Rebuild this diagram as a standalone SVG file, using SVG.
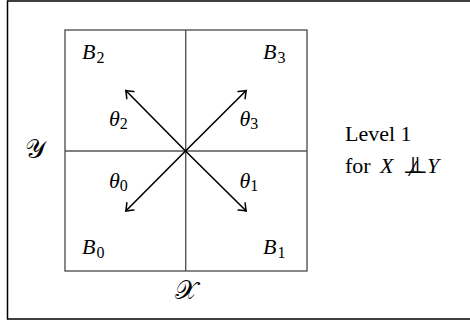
<svg xmlns="http://www.w3.org/2000/svg" width="470" height="324" viewBox="0 0 470 324">
<style>
.t{font-family:"Liberation Serif","DejaVu Serif",serif;font-size:22px;fill:#000}
.i{font-style:italic}
.s{font-size:16px;font-style:normal}
.g{stroke:#555;stroke-width:1.4;fill:none}
.a{stroke:#000;stroke-width:1.6;fill:none;marker-end:url(#ah)}
.sc{font-family:"DejaVu Serif","Liberation Serif",serif;font-size:26px;fill:#000}
.p{font-family:"DejaVu Sans",sans-serif;font-size:23px;font-style:normal}
</style>
<defs>
<marker id="ah" viewBox="-8 -6 10 12" markerWidth="10" markerHeight="12" refX="0" refY="0" orient="auto" markerUnits="userSpaceOnUse">
<path d="M-6.5,-5 Q-1.5,-1 0,0 Q-1.5,1 -6.5,5" fill="none" stroke="#000" stroke-width="1.5" stroke-linecap="round"/>
</marker>
</defs>
<rect x="7.5" y="1" width="470" height="318" fill="#fff" stroke="#000" stroke-width="1.5"/>
<g id="grid">
<rect class="g" x="65" y="30" width="242" height="241"/>
<line class="g" x1="185.7" y1="30" x2="185.7" y2="271"/>
<line class="g" x1="65" y1="151" x2="307" y2="151"/>
</g>
<g id="connectors">
<line class="a" x1="185.5" y1="151" x2="125.8" y2="90.5"/>
<line class="a" x1="185.5" y1="151" x2="246.2" y2="90.5"/>
<line class="a" x1="185.5" y1="151" x2="125.8" y2="211"/>
<line class="a" x1="185.5" y1="151" x2="246.2" y2="211"/>
</g>
<g id="B2"><text class="t i" x="82" y="59">B<tspan class="s" dx="1" dy="4">2</tspan></text></g>
<g id="B3"><text class="t i" x="263" y="59">B<tspan class="s" dx="1" dy="4">3</tspan></text></g>
<g id="B0"><text class="t i" x="82" y="254">B<tspan class="s" dx="1" dy="4">0</tspan></text></g>
<g id="B1"><text class="t i" x="263" y="254">B<tspan class="s" dx="1" dy="4">1</tspan></text></g>
<g id="theta2"><text class="t i" x="109" y="126">θ<tspan class="s" dy="3">2</tspan></text></g>
<g id="theta3"><text class="t i" x="239.5" y="126">θ<tspan class="s" dy="3">3</tspan></text></g>
<g id="theta0"><text class="t i" x="109" y="188">θ<tspan class="s" dy="3">0</tspan></text></g>
<g id="theta1"><text class="t i" x="239.5" y="188">θ<tspan class="s" dy="3">1</tspan></text></g>
<g id="ylabel"><text class="sc" x="35" y="158" text-anchor="middle">𝒴</text></g>
<g id="xlabel"><text class="sc" x="185.5" y="299" text-anchor="middle">𝒳</text></g>
<g id="level">
<text class="t" x="345" y="140.5" font-size="24">Level 1</text>
<text class="t" x="345" y="172.5" font-size="24">for<tspan class="i" x="380">X</tspan><tspan class="p" x="403">⊥</tspan><tspan class="p" x="407.5">⊥</tspan><tspan class="i" x="409" dy="3" font-size="24">/</tspan><tspan class="i" x="427" dy="-3">Y</tspan></text>
</g>
</svg>
